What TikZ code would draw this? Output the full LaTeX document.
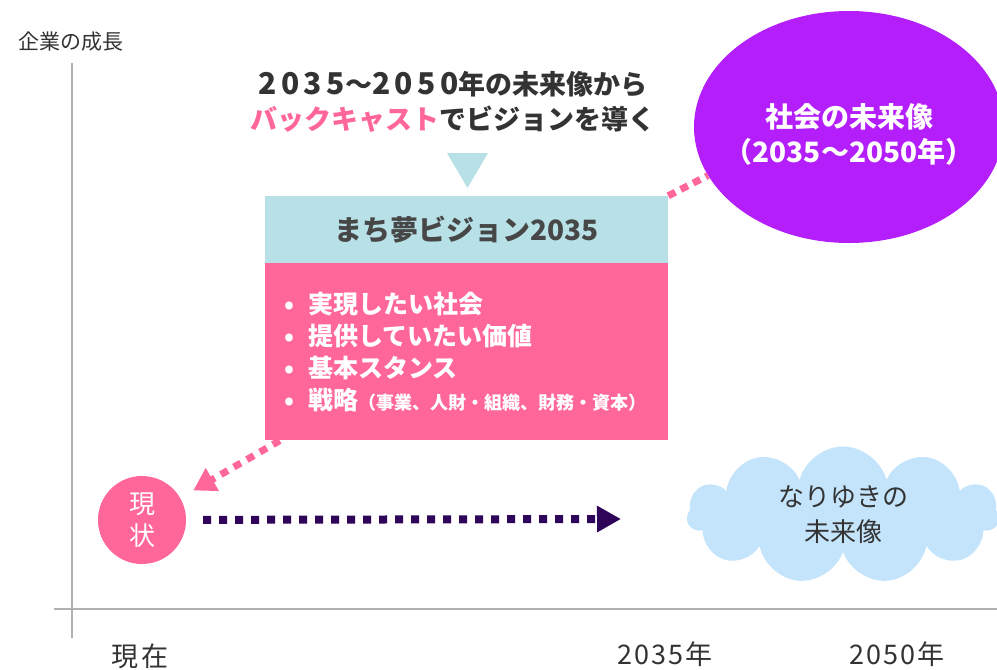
\documentclass[tikz,border=0pt]{standalone}
\usepackage{fontspec}
\setmainfont{Noto Sans CJK JP}
\setsansfont{Noto Sans CJK JP}
\usepackage{xcolor}
\definecolor{accent}{HTML}{FF6699}
\definecolor{headcyan}{HTML}{B8E0E7}
\definecolor{futurepurple}{HTML}{B41EFA}
\definecolor{trendpurple}{HTML}{2E0559}
\definecolor{cloudblue}{HTML}{C4E4FB}
\definecolor{axisgray}{HTML}{B0B0B0}
\definecolor{ink}{HTML}{333333}
\usepackage{tikz}
\usetikzlibrary{positioning}
\usetikzlibrary{arrows.meta,shapes.geometric,shapes.symbols}
\newcommand{\widedigits}[1]{{\fontsize{30pt}{35pt}\selectfont\addfontfeatures{LetterSpace=15}#1}}
\newcommand{\widewave}{{\addfontfeatures{CharacterWidth=Full}〜}}

\begin{document}
\begin{tikzpicture}[x=1pt,y=-1pt,
  every node/.style={text=ink,font=\fontsize{26pt}{35pt}\selectfont},
  axis/.style={draw=axisgray,line width=1.5pt},
  yearlabel/.style={font=\addfontfeatures{LetterSpace=8}\fontsize{27pt}{32pt}\selectfont},
  headbox/.style={fill=headcyan,minimum width=403pt,minimum height=67pt,inner sep=0pt,
    text=ink!90,font=\bfseries\fontsize{28pt}{34pt}\selectfont},
  bodybox/.style={fill=accent,minimum width=403pt,minimum height=177pt,inner sep=0pt},
  backcast/.style={draw=accent,line width=7pt,dash pattern=on 8pt off 7pt,shorten >=15pt,
    -{Triangle[length=22pt,width=25pt]}},
  trend/.style={draw=trendpurple,line width=8pt,dash pattern=on 8pt off 8pt,shorten <=17pt,
    -{Triangle[length=24pt,width=25pt]}}]
\useasboundingbox (0,0) rectangle (997,670);

% axes
\coordinate (ytop) at (72,63);
\coordinate (ybot) at (72,638);
\coordinate (xleft) at (54,609);
\coordinate (xright) at (997,609);
\draw[axis] (ytop) -- (ybot);
\draw[axis] (xleft) -- (xright);
\node (growth) at (71,42) [font=\fontsize{21pt}{25pt}\selectfont] {企業の成長};
\node (nowlabel) at (140,656) [yearlabel] {現在};
\node (y2035) at (665,654) [yearlabel] {2035年};
\node (y2050) at (897,654) [yearlabel] {2050年};

% title
\node (title) at (453,102) [align=center,font=\bfseries\fontsize{27pt}{35pt}\selectfont]
  {\widedigits{2035}\widewave\widedigits{2050}年の未来像から\\
   \textcolor{accent}{バックキャスト}でビジョンを導く};
\fill[headcyan] (447,153) -- (488,153) -- (467.5,188) -- cycle;

% vision box
\node (vision) [headbox] at (466.5,229.5) {まち夢ビジョン2035};
\node (body) [bodybox, below=0pt of vision] {};
\node (items) [anchor=west,align=left,text=white,
  font=\bfseries\fontsize{25pt}{32pt}\selectfont] at ([xshift=16pt]body.west)
  {\makebox[24pt][l]{•}実現したい社会\\
   \makebox[24pt][l]{•}提供していたい価値\\
   \makebox[24pt][l]{•}基本スタンス\\
   \makebox[24pt][l]{•}戦略{\fontsize{18pt}{32pt}\selectfont（事業、人財・組織、財務・資本）}};

% futures
\node (society) [ellipse,fill=futurepurple,minimum width=310pt,minimum height=232pt,
  inner sep=0pt] at (849,127) {};
\node (societytext) [text=white,align=center,font=\bfseries\fontsize{28pt}{35pt}\selectfont]
  at (849,134) {社会の未来像\\（2035〜2050年）};
\node (drift) [cloud,cloud puffs=11,aspect=2.5,fill=cloudblue,minimum width=312pt,
  minimum height=122pt,align=center] at (843,515) {なりゆきの\\未来像};
\node (now) [circle,fill=accent,minimum size=88pt,inner sep=0pt,text=white,align=center,
  font=\fontsize{26pt}{32pt}\selectfont] at (142,520) {現\\状};
\coordinate (goal) at (621,519);

% connectors
\draw[draw=accent,line width=7pt,dash pattern=on 8pt off 6pt] (vision.north east) -- (society.199);
\draw[backcast] ([xshift=15pt]body.south west) -- (now);
\draw[trend] (now) -- (goal);
\end{tikzpicture}
\end{document}
